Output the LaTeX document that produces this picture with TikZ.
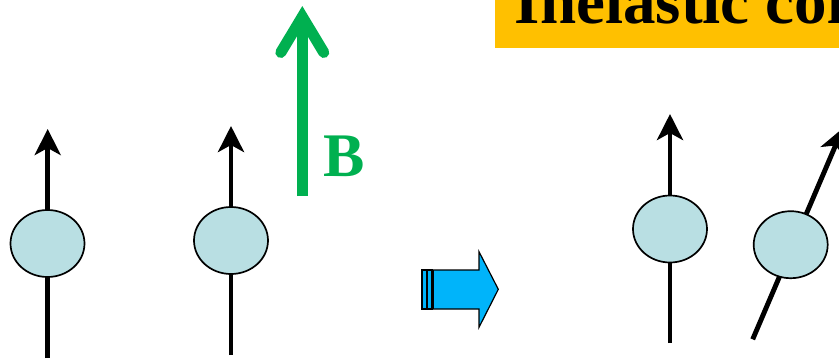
\documentclass[tikz,border=0pt]{standalone}
\usepackage{fontspec}
\setmainfont{Liberation Serif}
\usetikzlibrary{arrows.meta,shapes.geometric}

\definecolor{titlegold}{RGB}{255,192,0}
\definecolor{fieldgreen}{RGB}{0,176,80}
\definecolor{spinball}{RGB}{185,223,227}
\definecolor{blockblue}{RGB}{0,180,250}

\tikzset{
  particle/.style={ellipse, draw=black, line width=1.7pt, fill=spinball,
    minimum width=74pt, minimum height=67pt, inner sep=0pt},
  spinline/.style={line width=4.9pt, -{Stealth[length=26pt,width=26pt,inset=7pt]}},
  fieldshaft/.style={draw=fieldgreen, line width=11pt},
  fieldhead/.style={draw=fieldgreen, line width=11pt, line cap=round, miter limit=10},
  blockarrow/.style={draw=black, line width=1.2pt, fill=blockblue, line join=miter},
}

\begin{document}
\begin{tikzpicture}[x=1pt,y=-1pt]
  \useasboundingbox (0,0) rectangle (839,360);
  \clip (0,0) rectangle (839,360);

  % title banner
  \fill[titlegold] (495,-20) rectangle (900,47.7);
  \node[anchor=base west, inner sep=0pt, font=\fontsize{65}{70}\selectfont\bfseries]
    (title) at (514.7,23) {Inelastic collision};

  % magnetic field arrow
  \coordinate (fieldbase) at (302.3,196);
  \coordinate (fieldtop) at (302.3,18);
  \draw[fieldshaft] (fieldbase) -- (fieldtop);
  \draw[fieldhead] (280.8,52.5) -- (302.3,16.7) -- (323.8,52.5);
  \node[anchor=base west, inner sep=0pt, text=fieldgreen,
    font=\fontsize{62}{66}\selectfont\bfseries] (blabel) at (323.3,176) {B};

  % spin axes
  \coordinate (s1b) at (47.7,358);   \coordinate (s1t) at (47.7,129);
  \coordinate (s2b) at (231,355);    \coordinate (s2t) at (231,126);
  \coordinate (s3b) at (670,343);    \coordinate (s3t) at (670,114);
  \coordinate (s4b) at (752.7,339.3);\coordinate (s4t) at (843,128);
  \draw[spinline] (s1b) -- (s1t);
  \draw[spinline] (s2b) -- (s2t);
  \draw[spinline] (s3b) -- (s3t);
  \draw[spinline] (s4b) -- (s4t);

  % particles
  \node[particle] (p1) at (47.5,243.5) {};
  \node[particle] (p2) at (231,240.5) {};
  \node[particle] (p3) at (670,229) {};
  \node[particle] (p4) at (790.7,244.7) {};

  % striped block arrow
  \draw[blockarrow] (422,270) rectangle (426.3,309);
  \draw[blockarrow] (427.8,270) rectangle (432,309);
  \draw[blockarrow] (433.3,270) -- (479,270) -- (479,251.7) -- (498.3,289.3)
    -- (479,327.3) -- (479,309) -- (433.3,309) -- cycle;
\end{tikzpicture}
\end{document}
